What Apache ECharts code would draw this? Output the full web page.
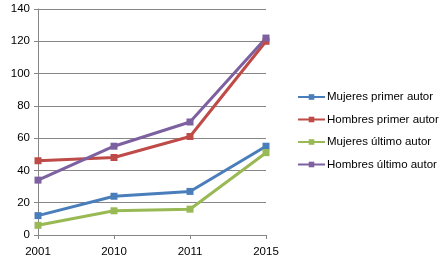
<!DOCTYPE html>
<html>
<head>
<meta charset="utf-8">
<script src="https://cdn.jsdelivr.net/npm/echarts@6/dist/echarts.min.js"></script>
<style>
html, body { margin: 0; padding: 0; background: #fff; }
#chart { width: 442px; height: 262px; }
</style>
</head>
<body>
<div id="chart"></div>
<script>
var years = ['2001', '2010', '2011', '2015'];
var mujeresPrimer = [12, 24, 27, 55];
var hombresPrimer = [46, 48, 61, 120];
var mujeresUltimo = [6, 15, 16, 51];
var hombresUltimo = [34, 55, 70, 122];
var names = ['Mujeres primer autor', 'Hombres primer autor', 'Mujeres último autor', 'Hombres último autor'];

var myChart = echarts.init(document.getElementById('chart'));

function serie(name, data) {
    return {
        name: name,
        type: 'line',
        data: data,
        symbol: 'rect',
        symbolSize: 7,
        lineStyle: { width: 3 },
        animation: false
    };
}

var option = {
    color: ['#4A7EBB', '#BE4B48', '#98B954', '#7D60A0'],
    textStyle: { fontFamily: 'Liberation Sans' },
    grid: { left: 38, right: 176, top: 9, bottom: 27 },
    legend: {
        orient: 'vertical',
        left: 297,
        top: 91,
        padding: 0,
        itemWidth: 27,
        itemHeight: 7,
        itemGap: 10.5,
        textStyle: { fontSize: 11.5, color: '#000', padding: [0, 0, 0, -3], lineHeight: 12 },
        data: names
    },
    xAxis: {
        type: 'category',
        boundaryGap: false,
        data: years,
        axisLine: { lineStyle: { color: '#868686' } },
        axisTick: { show: true, length: 4, lineStyle: { color: '#868686' } },
        axisLabel: { color: '#000', fontSize: 11.5, margin: 11 }
    },
    yAxis: {
        type: 'value',
        min: 0,
        max: 140,
        interval: 20,
        axisLine: { show: true, lineStyle: { color: '#868686' } },
        axisTick: { show: true, length: 4, lineStyle: { color: '#868686' } },
        axisLabel: { color: '#000', fontSize: 11.5, margin: 8 },
        splitLine: { lineStyle: { color: '#868686' } }
    },
    series: [
        serie(names[0], mujeresPrimer),
        serie(names[1], hombresPrimer),
        serie(names[2], mujeresUltimo),
        serie(names[3], hombresUltimo)
    ]
};

myChart.setOption(option);
</script>
</body>
</html>
